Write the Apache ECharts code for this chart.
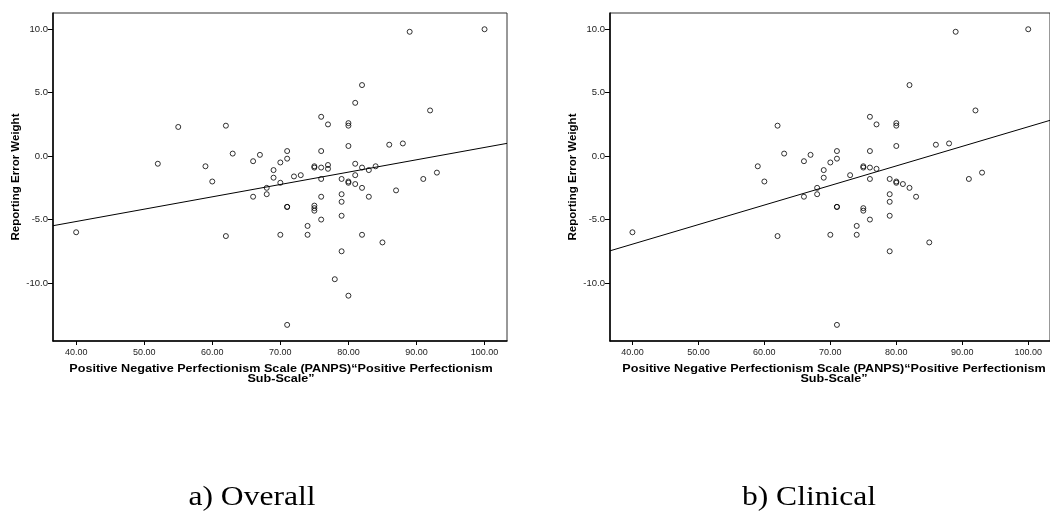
<!DOCTYPE html>
<html>
<head>
<meta charset="utf-8">
<script src="https://cdn.jsdelivr.net/npm/echarts@6/dist/echarts.min.js"></script>
<style>
  html, body { margin: 0; padding: 0; background: #fff; }
  #chart { width: 1050px; height: 512px; }
</style>
</head>
<body>
<div id="chart"></div>
<script>
// PANPS Positive Perfectionism score (x) vs reporting error weight (y)
const overallX = [40, 52, 55, 59, 60, 62, 62, 63, 66, 66, 67, 68, 68, 69, 69, 70, 70, 70,
  71, 71, 71, 71, 71, 72, 73, 74, 74, 75, 75, 75, 75, 75, 76, 76, 76, 76, 76, 76,
  77, 77, 77, 78, 79, 79, 79, 79, 79, 80, 80, 80, 80, 80, 80, 81, 81, 81, 81,
  82, 82, 82, 82, 83, 83, 84, 85, 86, 87, 88, 89, 91, 92, 93, 100];
const overallY = [-6.0, -0.6, 2.3, -0.8, -2.0, 2.4, -6.3, 0.2, -0.4, -3.2, 0.1, -2.5, -3.0, -1.1, -1.7, -0.5, -2.1, -6.2,
  0.4, -0.2, -4.0, -4.0, -13.3, -1.6, -1.5, -5.5, -6.2, -0.8, -0.9, -3.9, -4.1, -4.3, 3.1, 0.4, -0.9, -1.8, -3.2, -5.0,
  2.5, -0.7, -1.0, -9.7, -1.8, -3.0, -3.6, -4.7, -7.5, 2.6, 2.4, 0.8, -2.0, -2.1, -11.0, 4.2, -0.6, -1.5, -2.2,
  5.6, -0.9, -2.5, -6.2, -1.1, -3.2, -0.8, -6.8, 0.9, -2.7, 1.0, 9.8, -1.8, 3.6, -1.3, 10.0];

const clinicalX = [40, 59, 60, 62, 62, 63, 66, 66, 67, 68, 68, 69, 69, 70, 70,
  71, 71, 71, 71, 71, 73, 74, 74, 75, 75, 75, 75, 76, 76, 76, 76, 76,
  77, 77, 79, 79, 79, 79, 79, 80, 80, 80, 80, 80, 81, 82, 82, 83, 85, 86, 88, 89, 91, 92, 93, 100];
const clinicalY = [-6.0, -0.8, -2.0, 2.4, -6.3, 0.2, -0.4, -3.2, 0.1, -2.5, -3.0, -1.1, -1.7, -0.5, -6.2,
  0.4, -0.2, -4.0, -4.0, -13.3, -1.5, -5.5, -6.2, -0.8, -0.9, -4.1, -4.3, 3.1, 0.4, -0.9, -1.8, -5.0,
  2.5, -1.0, -1.8, -3.0, -3.6, -4.7, -7.5, 2.6, 2.4, 0.8, -2.0, -2.1, -2.2, 5.6, -2.5, -3.2, -6.8, 0.9, 1.0, 9.8, -1.8, 3.6, -1.3, 10.0];

const xTicks = [40, 50, 60, 70, 80, 90, 100];
const yTicks = [-10, -5, 0, 5, 10];
const xRange = [36.6, 103.3];
const yRange = [-14.57, 11.28];

const xTitle = 'Positive Negative Perfectionism Scale (PANPS)\u201cPositive Perfectionism\nSub-Scale\u201d';
const yTitle = 'Reporting Error Weight';
const captions = ['a) Overall', 'b) Clinical'];

// ordinary least-squares line through the points
function fitLine(xs, ys) {
  const n = xs.length;
  const mx = xs.reduce((s, v) => s + v, 0) / n;
  const my = ys.reduce((s, v) => s + v, 0) / n;
  let sxy = 0, sxx = 0;
  for (let i = 0; i < n; i++) {
    sxy += (xs[i] - mx) * (ys[i] - my);
    sxx += (xs[i] - mx) * (xs[i] - mx);
  }
  const b = sxy / sxx;
  const a = my - b * mx;
  return xRange.map(x => [x, a + b * x]);
}

const sans = 'Arial, "Liberation Sans", Helvetica, sans-serif';

function xAxisFor(gridIndex) {
  return {
    type: 'value', gridIndex, min: xRange[0], max: xRange[1],
    splitLine: { show: false },
    axisLine: { show: true, onZero: false, lineStyle: { color: '#000', width: 1.5 } },
    axisTick: { show: true, length: 4, customValues: xTicks, lineStyle: { color: '#000' } },
    axisLabel: { customValues: xTicks, formatter: v => v.toFixed(2), color: '#222',
      fontFamily: sans, fontSize: 9, margin: 7 }
  };
}
function yAxisFor(gridIndex) {
  return {
    type: 'value', gridIndex, min: yRange[0], max: yRange[1],
    splitLine: { show: false },
    axisLine: { show: true, onZero: false, lineStyle: { color: '#000', width: 1.5 } },
    axisTick: { show: true, length: 5, customValues: yTicks, lineStyle: { color: '#000' } },
    axisLabel: { customValues: yTicks, formatter: v => v.toFixed(1), color: '#222',
      fontFamily: sans, fontSize: 9.5, margin: 5 },
    name: yTitle, nameLocation: 'middle', nameGap: 31,
    nameTextStyle: { fontFamily: sans, fontWeight: 'bold', fontSize: 11.5, color: '#000' }
  };
}
function pointSeries(idx, xs, ys) {
  return {
    type: 'scatter', xAxisIndex: idx, yAxisIndex: idx,
    data: xs.map((x, i) => [x, ys[i]]),
    symbol: 'circle', symbolSize: 5,
    itemStyle: { color: 'rgba(0,0,0,0)', borderColor: '#000', borderWidth: 1 },
    emphasis: { disabled: true }, silent: true
  };
}
function fitSeries(idx, xs, ys) {
  return {
    type: 'line', xAxisIndex: idx, yAxisIndex: idx,
    data: fitLine(xs, ys), symbol: 'none', silent: true,
    lineStyle: { color: '#000', width: 1 }
  };
}
// wide bold x-axis title under each panel
function xTitleText(cx) {
  return { type: 'text', x: cx, y: 364.5, scaleX: 1.2,
    style: { text: xTitle, font: 'bold 10.5px ' + sans, lineHeight: 10,
      fill: '#000', align: 'center', verticalAlign: 'top' } };
}
function captionText(cx, text) {
  return { type: 'text', x: cx, y: 498, scaleX: 1.17,
    style: { text, font: '27px "Liberation Serif", "Times New Roman", serif',
      fill: '#000', align: 'center', verticalAlign: 'middle' } };
}

const chart = echarts.init(document.getElementById('chart'), null, { renderer: 'canvas' });
chart.setOption({
  animation: false,
  backgroundColor: '#fff',
  grid: [
    { left: 53, top: 13, right: 543, bottom: 171, show: true, borderColor: '#333', borderWidth: 1, containLabel: false },
    { left: 610, top: 13, right: -6, bottom: 171, show: true, borderColor: '#333', borderWidth: 1, containLabel: false }
  ],
  xAxis: [xAxisFor(0), xAxisFor(1)],
  yAxis: [yAxisFor(0), yAxisFor(1)],
  series: [
    fitSeries(0, overallX, overallY),
    pointSeries(0, overallX, overallY),
    fitSeries(1, clinicalX, clinicalY),
    pointSeries(1, clinicalX, clinicalY)
  ],
  graphic: [
    xTitleText(281),
    xTitleText(834),
    captionText(252, captions[0]),
    captionText(809, captions[1])
  ]
});
</script>
</body>
</html>
